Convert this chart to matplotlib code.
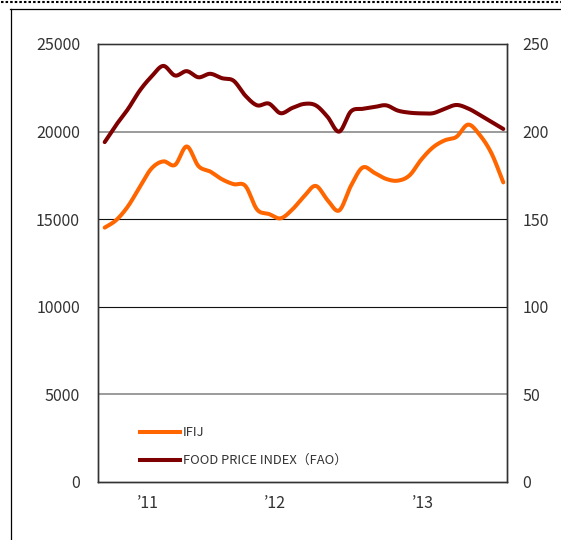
import numpy as np
import matplotlib
matplotlib.use("Agg")
import matplotlib.pyplot as plt
from matplotlib.lines import Line2D

plt.rcParams['font.family'] = ['Noto Sans CJK JP', 'DejaVu Sans']

# ---- data (monthly) ----
ifij = [145.2, 149.6, 157.5, 168.5, 179, 183, 181, 191.5, 180.3, 177.2,
        172.8, 170, 169, 155.5, 153, 150.5, 155.5, 163, 169, 161,
        155, 169, 179.5, 176.5, 173, 172, 175, 184, 191, 195,
        197, 204, 198, 187.5, 171]
ifij = [v * 100 for v in ifij]  # left axis scale
fao = [194, 204, 213, 223.5, 231.5, 237.5, 232, 234.5, 231, 233,
       230.5, 229, 220.5, 215, 216, 210.5, 213.5, 215.8, 215, 208.5,
       200, 211.5, 213, 214, 215, 212, 210.8, 210.4, 210.5, 213,
       215.2, 213.2, 209.5, 205.5, 201.5]
year_labels = ["’11", "’12", "’13"]
year_pos = [3.69, 14.53, 27.15]
left_ticks = [0, 5000, 10000, 15000, 20000, 25000]
right_ticks = [0, 50, 100, 150, 200, 250]
series_labels = ["IFIJ", "FOOD PRICE INDEX（FAO）"]


def smooth(y, n=20):
    y = np.asarray(y, float)
    x = np.arange(len(y), dtype=float)
    P = np.column_stack([x, y])
    P = np.vstack([P[0], P, P[-1]])
    out = []
    t = np.linspace(0, 1, n, endpoint=False)[:, None]
    for i in range(1, len(P) - 2):
        p0, p1, p2, p3 = P[i - 1], P[i], P[i + 1], P[i + 2]
        c1 = p1 + (p2 - p0) / 6.0
        c2 = p2 - (p3 - p1) / 6.0
        seg = ((1 - t) ** 3) * p1 + 3 * ((1 - t) ** 2) * t * c1 + 3 * (1 - t) * t ** 2 * c2 + t ** 3 * p2
        out.append(seg)
    out.append(P[-2][None, :])
    out = np.vstack(out)
    return out[:, 0], out[:, 1]


W, H = 561, 540
fig = plt.figure(figsize=(W / 100, H / 100), dpi=100)

# frame decorations
fig.add_artist(Line2D([1 / W, 1.0], [1 - 2 / H, 1 - 2 / H], color='black', lw=1.5,
                      linestyle=(0, (1.2, 1.0)), transform=fig.transFigure))
fig.add_artist(Line2D([10 / W, 1.0], [1 - 8.5 / H, 1 - 8.5 / H], color='black', lw=0.9,
                      transform=fig.transFigure))
fig.add_artist(Line2D([10.5 / W, 10.5 / W], [0, 1 - 8.5 / H], color='black', lw=0.9,
                      transform=fig.transFigure))

ax = fig.add_axes([98 / W, (H - 482) / H, 409 / W, 438 / H])
ax2 = ax.twinx()

n = len(fao)
ax.set_xlim(-0.571, n - 1 + 0.316)
ax.set_ylim(0, 25000)
ax2.set_ylim(0, 250)

grid_styles = {5000: ('#808080', 1.1), 10000: ('#111111', 0.8),
               15000: ('#111111', 0.8), 20000: ('#808080', 1.1)}
for v in left_ticks[1:-1]:
    c, w = grid_styles[v]
    ax.axhline(v, color=c, lw=w, zorder=1)

xs, ys = smooth(ifij)
xf, yf = smooth(fao)
ax.plot(xs, ys, color='#FF6600', lw=2.9, solid_capstyle='round', zorder=3)
ax2.plot(xf, yf, color='#7F0000', lw=2.9, solid_capstyle='round', zorder=3)

ax.set_yticks(left_ticks)
ax.set_yticklabels([str(v) for v in left_ticks])
ax2.set_yticks(right_ticks)
ax2.set_yticklabels([str(v) for v in right_ticks])
ax.set_xticks(year_pos)
ax.set_xticklabels(year_labels)

for a in (ax, ax2):
    a.tick_params(length=0, labelsize=11.5, colors='#333333')
    for s in a.spines.values():
        s.set_color('#333333')
        s.set_linewidth(1.0)
ax.spines['top'].set_color('#808080')
ax.tick_params(axis='y', pad=13)
ax.tick_params(axis='x', pad=9)
ax2.tick_params(axis='y', pad=11)

handles = [Line2D([], [], color='#FF6600', lw=2.9),
           Line2D([], [], color='#7F0000', lw=2.9)]
leg = ax.legend(handles, series_labels, loc='upper left',
                bbox_to_anchor=(0.103, 0.127), frameon=False,
                borderaxespad=0, borderpad=0, handlelength=3.1,
                handletextpad=0.2, labelspacing=1.15,
                prop={'size': 9.3})
for t in leg.get_texts():
    t.set_color('#333333')

fig.savefig("out.png", dpi=100)
